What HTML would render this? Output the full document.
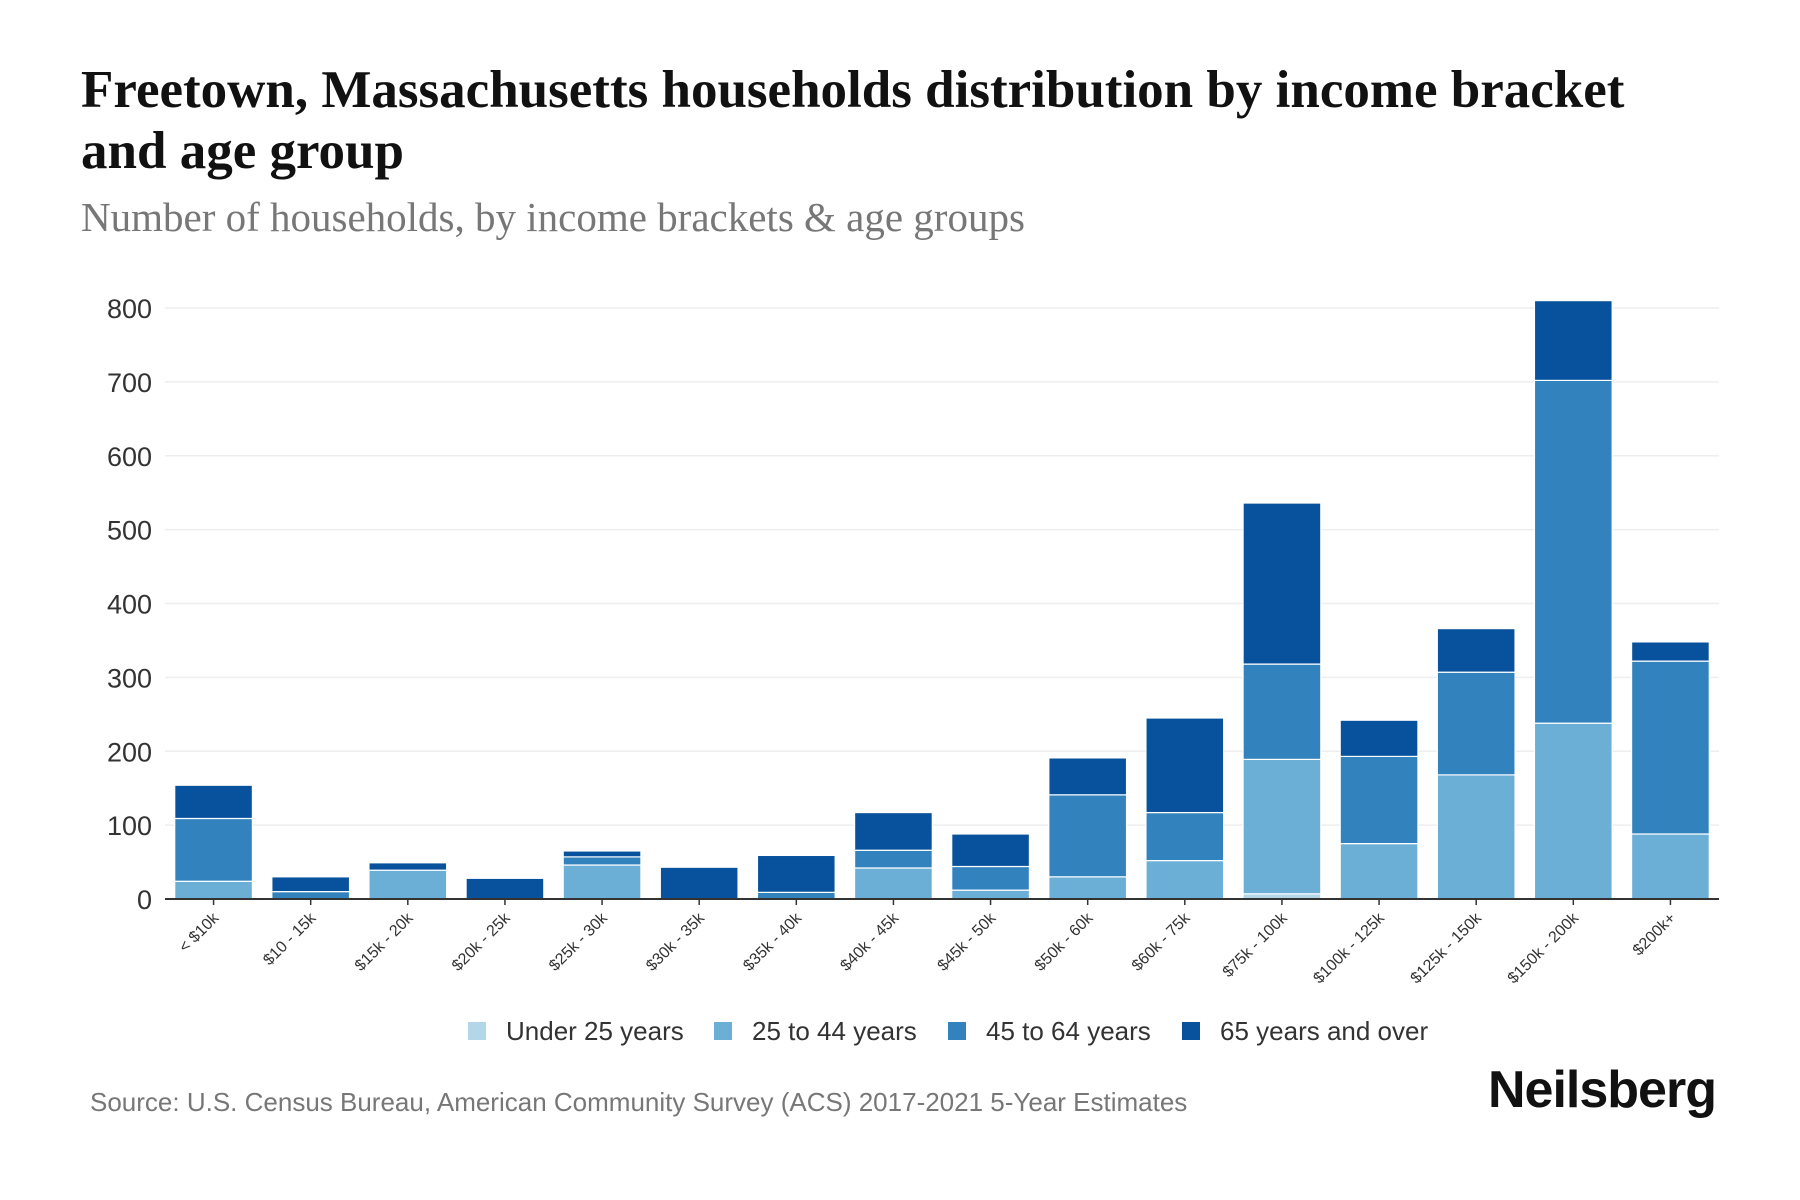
<!DOCTYPE html>
<html><head><meta charset="utf-8"><style>
body{margin:0;background:#fff;width:1800px;height:1200px;overflow:hidden;font-family:"Liberation Sans",sans-serif}
.t{position:absolute;left:81px;top:60px;font:bold 53px/61px "Liberation Serif",serif;color:#111;width:1600px}
.s{position:absolute;left:81px;top:193px;font:41px "Liberation Serif",serif;color:#777}
.src{position:absolute;left:90px;top:1087px;font:26px "Liberation Sans",sans-serif;color:#777}
.logo{position:absolute;left:1488px;top:1060px;font:bold 52px "Liberation Sans",sans-serif;color:#111;letter-spacing:-1px}
</style></head><body>
<div class="t">Freetown, Massachusetts households distribution by income bracket and age group</div>
<div class="s">Number of households, by income brackets &amp; age groups</div>
<svg id="c" width="1800" height="1200" style="position:absolute;left:0;top:0"></svg>
<div class="src">Source: U.S. Census Bureau, American Community Survey (ACS) 2017-2021 5-Year Estimates</div>
<div class="logo">Neilsberg</div>
<script>
const categories=["< $10k","$10 - 15k","$15k - 20k","$20k - 25k","$25k - 30k","$30k - 35k","$35k - 40k","$40k - 45k","$45k - 50k","$50k - 60k","$60k - 75k","$75k - 100k","$100k - 125k","$125k - 150k","$150k - 200k","$200k+"];
const under25=[0,0,0,0,0,0,0,0,0,0,0,7,0,0,0,0];
const age25to44=[24,0,39,0,46,0,0,42,12,30,52,182,75,168,238,88];
const age45to64=[85,10,0,0,11,0,9,24,32,111,65,129,118,139,464,234];
const age65plus=[45,20,10,28,8,43,50,51,44,50,128,218,49,59,108,26];
const yTicks=[0,100,200,300,400,500,600,700,800];
const seriesNames=["Under 25 years","25 to 44 years","45 to 64 years","65 years and over"];
const colors=["#b3d7e8","#6baed6","#3182bd","#08519c"];
const series=[under25,age25to44,age45to64,age65plus];
const NS="http://www.w3.org/2000/svg",svg=document.getElementById('c');
const L=165,R=1719,Y0=899,Y800=308;
const y=v=>Y0-(v/800)*(Y0-Y800);
const band=(R-L)/categories.length;
const x=i=>L+i*band+band*0.1;
const bw=band*0.8;
function mk(t,a){const e=document.createElementNS(NS,t);for(const k in a)e.setAttribute(k,a[k]);svg.appendChild(e);return e;}
yTicks.forEach(v=>{
  if(v>0){const g=mk('line',{x1:L,x2:R,y1:y(v),y2:y(v),stroke:'#eee','stroke-width':1.5});
  
  }
  const t=mk('text',{x:152,y:y(v)+10,'text-anchor':'end','font-size':27,fill:'#333','font-family':'Liberation Sans, sans-serif'});
  t.textContent=v;
  
  
});
categories.forEach((c,i)=>{
  let acc=0;
  series.forEach((s,k)=>{
    const v=s[i];if(v<=0)return;
    const r=mk('rect',{x:x(i),y:y(acc+v),width:bw,height:y(acc)-y(acc+v),fill:colors[k],stroke:'#fff','stroke-width':1.2});
    
    
    acc+=v;
  });
  const cx=x(i)+bw/2;
  mk('line',{x1:cx,x2:cx,y1:Y0,y2:Y0+6,stroke:'#333','stroke-width':1.5});
  const t=mk('text',{x:cx+6,y:Y0+20,'text-anchor':'end','font-size':16,fill:'#333',transform:`rotate(-45 ${cx+6} ${Y0+20})`});
  t.textContent=c;
  
  
});
const ax=mk('line',{x1:L,x2:R,y1:Y0,y2:Y0,stroke:'#333','stroke-width':2});


const lx=[468,714,948,1182];
seriesNames.forEach((n,k)=>{
  const r=mk('rect',{x:lx[k],y:1022,width:18,height:18,fill:colors[k]});
  
  
  const t=mk('text',{x:lx[k]+38,y:1040,'font-size':26,fill:'#333'});
  t.textContent=n;
  
  
});
</script>
</body></html>
